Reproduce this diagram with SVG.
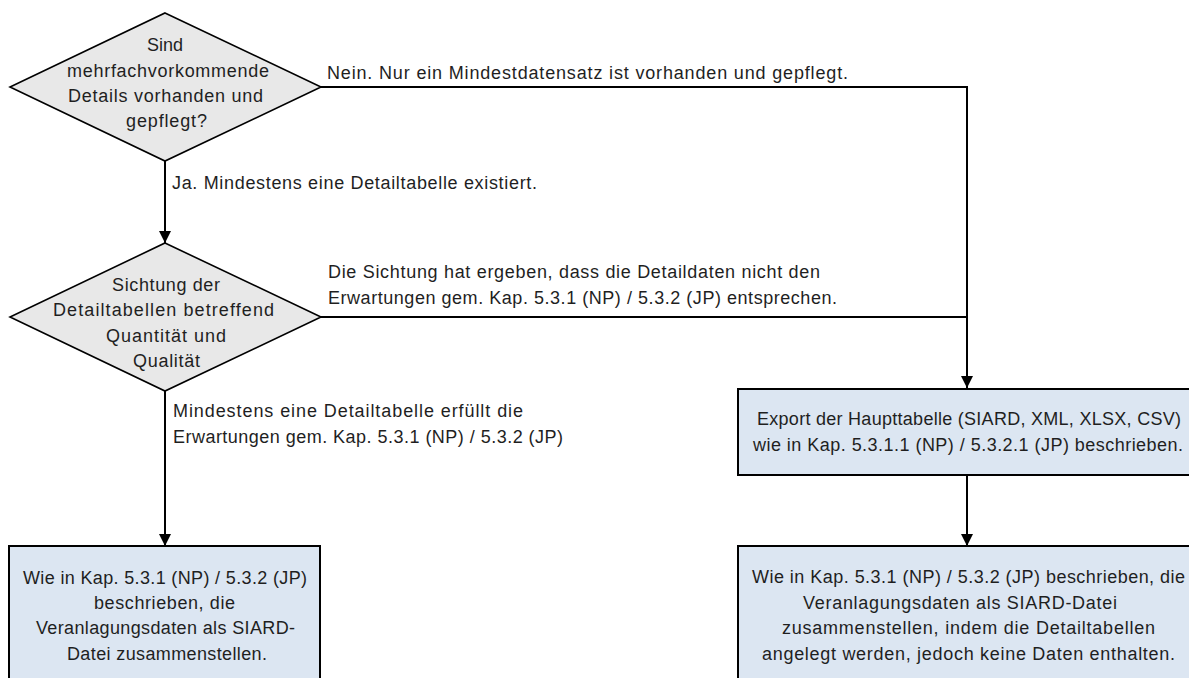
<svg xmlns="http://www.w3.org/2000/svg" width="1189" height="678" viewBox="0 0 1189 678">
<defs>
<marker id="arr" viewBox="0 0 12 12" refX="12" refY="6" markerWidth="12" markerHeight="12" markerUnits="userSpaceOnUse" orient="auto">
<path d="M0,0 L12,6 L0,12 Z" fill="#000"/>
</marker>
<style>
text{font-family:"Liberation Sans",Arial,sans-serif;font-size:18px;fill:#1f1f1f}
.dia{fill:#e8e8e8;stroke:#000;stroke-width:1.6}
.box{fill:#dce6f2;stroke:#000;stroke-width:2}
.ln{fill:none;stroke:#000;stroke-width:2}
</style>
</defs>
<rect width="1189" height="678" fill="#fff"/>
<g id="connectors">
<path class="ln" d="M321,87 H967 V388" marker-end="url(#arr)"/>
<path class="ln" d="M321,317 H967"/>
<path class="ln" d="M165,161 V243" marker-end="url(#arr)"/>
<path class="ln" d="M165,391 V546" marker-end="url(#arr)"/>
<path class="ln" d="M967,475 V546" marker-end="url(#arr)"/>
<text x="327" y="79" textLength="521" lengthAdjust="spacing">Nein. Nur ein Mindestdatensatz ist vorhanden und gepflegt.</text>
<text x="172" y="189" textLength="365" lengthAdjust="spacing">Ja. Mindestens eine Detailtabelle existiert.</text>
<text x="328" y="278" textLength="492" lengthAdjust="spacing">Die Sichtung hat ergeben, dass die Detaildaten nicht den</text>
<text x="328" y="304" textLength="509" lengthAdjust="spacing">Erwartungen gem. Kap. 5.3.1 (NP) / 5.3.2 (JP) entsprechen.</text>
<text x="173" y="417" textLength="350" lengthAdjust="spacing">Mindestens eine Detailtabelle erfüllt die</text>
<text x="173" y="443" textLength="390" lengthAdjust="spacing">Erwartungen gem. Kap. 5.3.1 (NP) / 5.3.2 (JP)</text>
</g>
<g id="decision1">
<polygon class="dia" points="165,13 321,87 165,161 10,87"/>
<text x="147" y="51" textLength="36" lengthAdjust="spacing">Sind</text>
<text x="67" y="77" textLength="202" lengthAdjust="spacing">mehrfachvorkommende</text>
<text x="68" y="102" textLength="195" lengthAdjust="spacing">Details vorhanden und</text>
<text x="126" y="127" textLength="81" lengthAdjust="spacing">gepflegt?</text>
</g>
<g id="decision2">
<polygon class="dia" points="165,243 321,317 165,391 10,317"/>
<text x="112" y="291" textLength="108" lengthAdjust="spacing">Sichtung der</text>
<text x="53" y="316" textLength="221" lengthAdjust="spacing">Detailtabellen betreffend</text>
<text x="106" y="342" textLength="120" lengthAdjust="spacing">Quantität und</text>
<text x="133" y="367" textLength="67" lengthAdjust="spacing">Qualität</text>
</g>
<g id="export">
<rect class="box" x="738" y="389" width="454" height="86"/>
<text x="757" y="425" textLength="424" lengthAdjust="spacing">Export der Haupttabelle (SIARD, XML, XLSX, CSV)</text>
<text x="753" y="451" textLength="430" lengthAdjust="spacing">wie in Kap. 5.3.1.1 (NP) / 5.3.2.1 (JP) beschrieben.</text>
</g>
<g id="result-left">
<rect class="box" x="9" y="546" width="311" height="140"/>
<text x="23" y="584" textLength="284" lengthAdjust="spacing">Wie in Kap. 5.3.1 (NP) / 5.3.2 (JP)</text>
<text x="94" y="609" textLength="141" lengthAdjust="spacing">beschrieben, die</text>
<text x="36" y="634" textLength="259" lengthAdjust="spacing">Veranlagungsdaten als SIARD-</text>
<text x="67" y="660" textLength="200" lengthAdjust="spacing">Datei zusammenstellen.</text>
</g>
<g id="result-right">
<rect class="box" x="738" y="546" width="454" height="140"/>
<text x="752" y="583" textLength="433" lengthAdjust="spacing">Wie in Kap. 5.3.1 (NP) / 5.3.2 (JP) beschrieben, die</text>
<text x="803" y="609" textLength="314" lengthAdjust="spacing">Veranlagungsdaten als SIARD-Datei</text>
<text x="782" y="634" textLength="373" lengthAdjust="spacing">zusammenstellen, indem die Detailtabellen</text>
<text x="762" y="660" textLength="413" lengthAdjust="spacing">angelegt werden, jedoch keine Daten enthalten.</text>
</g>
</svg>
